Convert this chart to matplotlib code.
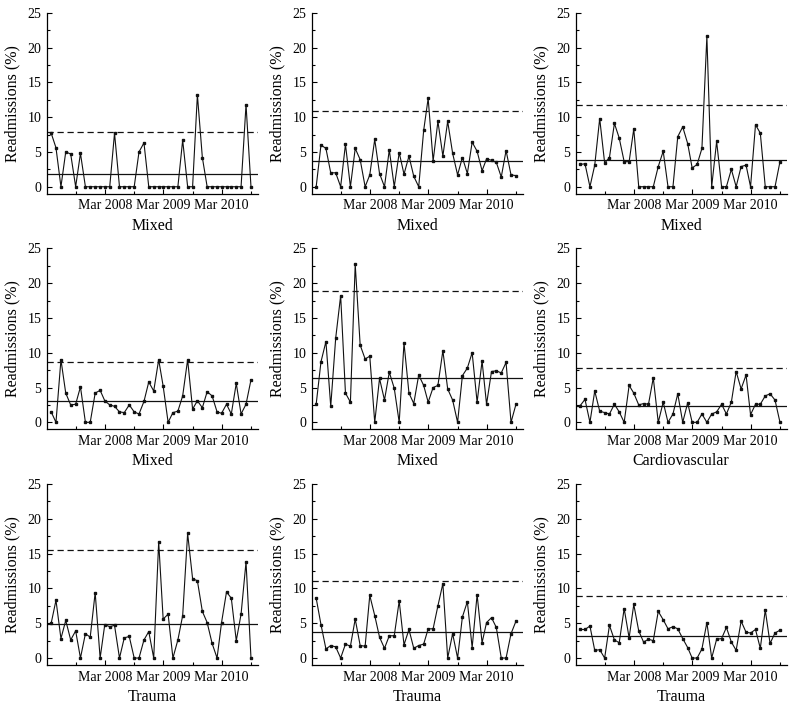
import numpy as np
import pandas as pd
import matplotlib
matplotlib.use("Agg")
import matplotlib.pyplot as plt
import matplotlib.dates as mdates

plt.rcParams['font.family'] = ['Liberation Serif', 'DejaVu Serif']

# monthly readmission rates, Apr 2007 - Sep 2010
months = pd.date_range("2007-04-01", periods=42, freq="MS")

mixed_a = [7.7, 5.6, 0, 5.0, 4.7, 0, 4.8, 0, 0, 0, 0, 0, 0, 7.7, 0, 0, 0, 0, 5.0, 6.3, 0,
           0, 0, 0, 0, 0, 0, 6.7, 0, 0, 13.2, 4.2, 0, 0, 0, 0, 0, 0, 0, 0, 11.8, 0]
mixed_b = [0, 6.0, 5.5, 2.0, 2.0, 0, 6.1, 0, 5.5, 3.9, 0, 1.7, 6.8, 1.9, 0, 5.3, 0, 4.9, 1.8, 4.4, 1.5,
           0, 8.1, 12.7, 3.7, 9.4, 4.4, 9.4, 4.8, 1.7, 4.2, 1.9, 6.4, 5.1, 2.3, 4.0, 3.8, 3.5, 1.4, 5.2, 1.7, 1.6]
mixed_c = [3.2, 3.3, 0, 3.1, 9.8, 3.4, 4.2, 9.1, 7.0, 3.6, 3.6, 8.3, 0, 0, 0, 0, 2.9, 5.1, 0, 0, 7.2,
           8.6, 6.2, 2.7, 3.2, 5.5, 21.6, 0, 6.5, 0, 0, 2.5, 0, 2.9, 3.1, 0, 8.9, 7.7, 0, 0, 0, 3.6]
mixed_d = [1.5, 0, 9.0, 4.2, 2.5, 2.6, 5.1, 0, 0, 4.2, 4.6, 3.1, 2.5, 2.3, 1.5, 1.4, 2.5, 1.5, 1.2, 3.0, 5.8,
           4.5, 9.0, 5.2, 0, 1.4, 1.6, 3.8, 9.0, 1.9, 3.1, 2.1, 4.4, 3.8, 1.5, 1.3, 2.6, 1.2, 5.6, 1.2, 2.6, 6.1]
mixed_e = [2.6, 8.7, 11.6, 2.3, 12.1, 18.2, 4.2, 2.9, 22.7, 11.1, 9.1, 9.5, 0, 6.3, 3.2, 7.2, 4.9, 0, 11.4, 4.2, 2.7,
           6.8, 5.3, 2.9, 5.0, 5.3, 10.3, 4.8, 3.2, 0, 6.7, 7.8, 10.0, 2.9, 8.8, 2.6, 7.3, 7.4, 7.1, 8.6, 0, 2.6]
cardio = [2.4, 3.3, 0, 4.5, 1.6, 1.4, 1.2, 2.6, 1.5, 0, 5.3, 4.2, 2.5, 2.7, 2.6, 6.4, 0, 2.9, 0, 1.2, 4.1,
          0, 2.8, 0, 0, 1.2, 0, 1.2, 1.5, 2.6, 1.2, 2.9, 7.3, 4.8, 6.8, 1.1, 2.6, 2.6, 3.8, 4.1, 3.2, 0]
trauma_a = [5.0, 8.3, 2.8, 5.4, 2.6, 3.9, 0, 3.5, 3.0, 9.4, 0, 4.8, 4.5, 4.7, 0, 2.9, 3.1, 0, 0, 2.6, 3.8,
            0, 16.7, 5.6, 6.3, 0, 2.6, 6.1, 17.9, 11.4, 11.1, 6.7, 5.1, 2.1, 0, 5.1, 9.5, 8.6, 2.5, 6.3, 13.8, 0]
trauma_b = [8.6, 4.8, 1.3, 1.8, 1.6, 0, 2.0, 1.7, 5.6, 1.8, 1.7, 9.0, 6.1, 3.0, 1.4, 3.2, 3.2, 8.2, 1.9, 4.1, 1.4,
            1.8, 2.0, 4.2, 4.2, 7.5, 10.7, 0, 3.5, 0, 5.9, 8.1, 1.5, 9.1, 2.2, 5.1, 5.8, 4.4, 0, 0, 3.5, 5.3]
trauma_c = [4.1, 4.1, 4.6, 1.1, 1.2, 0, 4.7, 2.6, 2.2, 7.1, 2.9, 7.7, 3.9, 2.3, 2.7, 2.5, 6.7, 5.5, 4.2, 4.5, 4.2,
            2.8, 1.5, 0, 0, 1.3, 5.1, 0, 2.7, 2.8, 4.4, 2.3, 1.1, 5.3, 3.7, 3.6, 4.1, 1.4, 6.9, 2.1, 3.6, 4.0]

series = [mixed_a, mixed_b, mixed_c, mixed_d, mixed_e, cardio, trauma_a, trauma_b, trauma_c]
groups = ["Mixed", "Mixed", "Mixed", "Mixed", "Mixed", "Cardiovascular", "Trauma", "Trauma", "Trauma"]
means = [1.9, 3.7, 3.8, 3.1, 6.4, 2.4, 4.9, 3.7, 3.2]
upper = [7.8, 10.9, 11.7, 8.7, 18.9, 7.8, 15.5, 11.1, 8.9]

W, H = 796, 708
fig = plt.figure(figsize=(W / 100, H / 100), dpi=100)

lefts = [46.7, 311.7, 575.7]
tops = [12.7, 248.3, 484.0]
aw, ah = 211, 181

for k in range(9):
    r, c = divmod(k, 3)
    ax = fig.add_axes([lefts[c] / W, (H - tops[r] - ah) / H, aw / W, ah / H])
    ax.plot(months, series[k], color="#111111", lw=0.8, marker="s", ms=1.5)
    ax.axhline(means[k], color="#111111", lw=0.9)
    ax.axhline(upper[k], color="#111111", lw=0.9, ls=(0, (5, 3)))

    ax.set_ylim(-1, 25)
    ax.set_xlim(pd.Timestamp("2007-03-04"), pd.Timestamp("2010-10-13"))
    ax.set_yticks([0, 5, 10, 15, 20, 25])
    ax.set_yticks(np.arange(2.5, 25, 5), minor=True)
    ax.xaxis.set_major_locator(mdates.MonthLocator(bymonth=3))
    ax.xaxis.set_minor_locator(mdates.MonthLocator(bymonth=9))
    ax.xaxis.set_major_formatter(mdates.DateFormatter("%b %Y"))

    for s in ["top", "right"]:
        ax.spines[s].set_visible(False)
    ax.spines["left"].set_linewidth(0.9)
    ax.spines["bottom"].set_linewidth(0.9)
    ax.tick_params(which="both", direction="in", labelsize=10, width=0.8)
    ax.tick_params(which="major", length=3.5, pad=4)
    ax.tick_params(which="minor", length=2)

    ax.set_ylabel("Readmissions (%)", fontsize=11.5, labelpad=5)
    ax.set_xlabel(groups[k], fontsize=11.5, labelpad=4)

fig.savefig("out.png", dpi=100)
